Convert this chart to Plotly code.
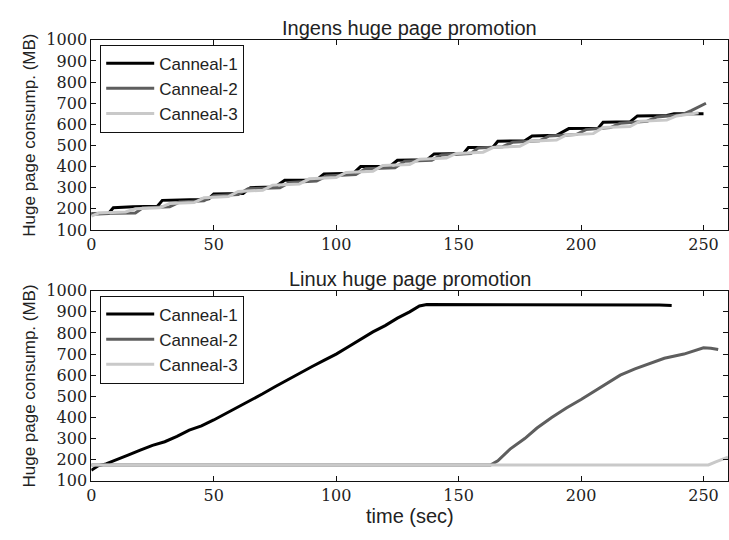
import plotly.graph_objects as go

# ---------------- data ----------------
series_names = ["Canneal-1", "Canneal-2", "Canneal-3"]
series_colors = ["#000000", "#5e5e5e", "#c9c9c9"]

# Ingens huge page promotion
ing_t1 = [0, 7, 9, 17, 27, 29, 44, 48, 50, 62, 65, 75, 79, 92, 95, 107, 110, 122, 125, 137, 140, 152,
          154, 164, 166, 177, 180, 190, 195, 207, 209, 220, 223, 235, 238, 248, 250]
ing_v1 = [175, 178, 205, 210, 212, 240, 244, 248, 270, 272, 300, 303, 335, 337, 365, 368, 400, 402, 430,
          432, 460, 462, 490, 492, 520, 522, 545, 548, 580, 582, 610, 612, 640, 642, 650, 652, 650]
ing_t2 = [0, 18, 21, 32, 36, 46, 50, 60, 64, 77, 81, 92, 96, 108, 112, 124, 128, 139, 143, 155, 158, 168,
          172, 183, 187, 198, 202, 212, 216, 227, 231, 241, 245, 251]
ing_v2 = [178, 180, 205, 210, 232, 238, 262, 268, 295, 300, 325, 332, 355, 362, 390, 395, 425, 430, 455,
          462, 488, 494, 515, 522, 545, 552, 575, 585, 605, 615, 635, 645, 665, 700]
ing_t3 = [0, 3, 14, 18, 28, 32, 42, 46, 56, 60, 70, 74, 85, 89, 100, 104, 115, 119, 130, 134, 145, 149,
          160, 164, 175, 179, 190, 194, 205, 209, 220, 224, 235, 239, 248]
ing_v3 = [165, 180, 185, 200, 205, 225, 230, 252, 258, 282, 288, 312, 318, 342, 348, 372, 378, 405, 410,
          435, 440, 462, 468, 490, 496, 520, 526, 550, 556, 585, 590, 615, 620, 640, 655]

# Linux huge page promotion
lin_t1 = [0, 3, 6, 10, 15, 20, 25, 30, 35, 40, 45, 50, 55, 60, 65, 70, 75, 80, 85, 90, 95, 100, 105,
          110, 115, 120, 125, 130, 134, 137, 150, 170, 190, 210, 225, 232, 237]
lin_v1 = [150, 172, 180, 200, 222, 245, 268, 285, 310, 340, 360, 388, 418, 450, 480, 512, 545, 578, 610,
          640, 670, 700, 735, 770, 805, 835, 870, 900, 928, 935, 935, 935, 935, 935, 935, 932, 930]
lin_t2 = [0, 163, 166, 171, 177, 182, 188, 194, 200, 205, 210, 216, 222, 228, 234, 242, 246, 250, 253, 256]
lin_v2 = [175, 175, 195, 250, 300, 350, 400, 445, 485, 520, 555, 600, 630, 655, 680, 700, 715, 730, 728, 722]
lin_t3 = [0, 252, 255, 258, 260]
lin_v3 = [175, 175, 190, 205, 212]

x_ticks = [0, 50, 100, 150, 200, 250]
y_ticks = [100, 200, 300, 400, 500, 600, 700, 800, 900, 1000]

titles = ["Ingens huge page promotion", "Linux huge page promotion"]
y_title = "Huge page consump. (MB)"
x_title = "time (sec)"

# ---------------- figure ----------------
W, H = 729, 540
fig = go.Figure()

top_data = [(ing_t1, ing_v1), (ing_t2, ing_v2), (ing_t3, ing_v3)]
bot_data = [(lin_t1, lin_v1), (lin_t2, lin_v2), (lin_t3, lin_v3)]

for i, (t, v) in enumerate(top_data):
    fig.add_trace(go.Scatter(x=t, y=v, mode="lines", name=series_names[i],
                             line=dict(color=series_colors[i], width=3),
                             xaxis="x", yaxis="y", legend="legend"))
for i, (t, v) in enumerate(bot_data):
    fig.add_trace(go.Scatter(x=t, y=v, mode="lines", name=series_names[i],
                             line=dict(color=series_colors[i], width=3),
                             xaxis="x2", yaxis="y2", legend="legend2"))

x0 = 87 / W
top_dom = [(H - 229) / H, (H - 32) / H]
bot_dom = [(H - 489) / H, (H - 292) / H]

tick_font = dict(family="DejaVu Serif", size=16, color="#222")
axis_common = dict(showline=True, linecolor="#111", linewidth=1, mirror="ticks",
                   ticks="inside", ticklen=5, tickcolor="#111", showgrid=False,
                   zeroline=False, tickfont=tick_font)

legend_common = dict(xanchor="left", yanchor="top", bordercolor="#111", borderwidth=1,
                     bgcolor="white", font=dict(family="Liberation Sans", size=17, color="#222"),
                     itemwidth=48, tracegroupgap=0)

fig.update_layout(
    width=W, height=H,
    margin=dict(l=0, r=0, t=0, b=0),
    paper_bgcolor="white", plot_bgcolor="white",
    xaxis=dict(domain=[x0, 1], range=[0, 260], tickvals=x_ticks, anchor="y", **axis_common),
    yaxis=dict(domain=top_dom, range=[100, 1000], tickvals=y_ticks, anchor="x", **axis_common),
    xaxis2=dict(domain=[x0, 1], range=[0, 260], tickvals=x_ticks, anchor="y2", **axis_common),
    yaxis2=dict(domain=bot_dom, range=[100, 1000], tickvals=y_ticks, anchor="x2", **axis_common),
    legend=dict(x=96 / W, y=(H - 37) / H, **legend_common),
    legend2=dict(x=96 / W, y=(H - 297) / H, **legend_common),
)

ann_font = dict(family="Liberation Sans", size=20, color="#222")
xc = (x0 + 1) / 2
for dom, txt in zip([top_dom, bot_dom], titles):
    fig.add_annotation(text=txt, x=xc, y=dom[1], xref="paper", yref="paper",
                       xanchor="center", yanchor="bottom", yshift=-1, showarrow=False, font=ann_font)
    fig.add_annotation(text=y_title, x=25 / W, y=(dom[0] + dom[1]) / 2, xref="paper", yref="paper",
                       xanchor="center", yanchor="middle", textangle=-90, showarrow=False,
                       font=dict(family="Liberation Sans", size=17, color="#222"))

fig.add_annotation(text=x_title, x=xc, y=(H - 521) / H, xref="paper", yref="paper",
                   xanchor="center", yanchor="middle", yshift=-4, showarrow=False, font=ann_font)

fig.write_html("out.html")
